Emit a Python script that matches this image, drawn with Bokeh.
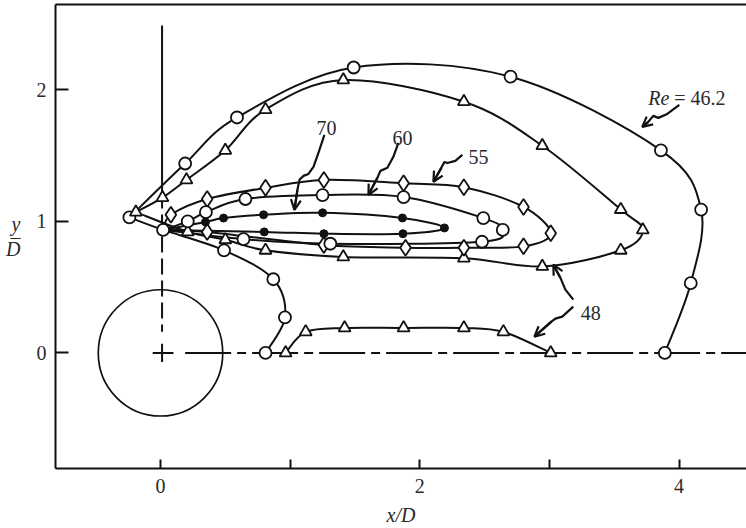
from bokeh.plotting import figure
from bokeh.models import FixedTicker, LinearAxis, Label, Arrow, OpenHead, Range1d
from bokeh.embed import file_html
from bokeh.resources import INLINE

# ---------------- data (x/D, y/D) ----------------
# Re = 46.2 : open circles
re462_upper_x = [-0.24, 0.19, 0.59, 1.49, 2.70, 3.86, 4.17, 4.09, 3.89]
re462_upper_y = [1.03, 1.44, 1.79, 2.17, 2.10, 1.54, 1.09, 0.53, 0.00]
re462_lower_x = [-0.24, 0.02, 0.49, 0.87, 0.96, 0.81]
re462_lower_y = [1.03, 0.935, 0.78, 0.56, 0.27, 0.00]

# Re = 48 : open triangles (upper loop + bubble on the centre line)
re48_loop_x = [-0.19, 0.015, 0.20, 0.50, 0.81, 1.41, 2.34, 2.945, 3.55, 3.72,
               3.55, 2.945, 2.34, 1.41, 0.81, 0.50, 0.21]
re48_loop_y = [1.07, 1.18, 1.315, 1.54, 1.85, 2.075, 1.91, 1.575, 1.09, 0.935,
               0.78, 0.657, 0.72, 0.73, 0.78, 0.86, 0.92]
re48_bubble_x = [0.965, 1.12, 1.42, 1.875, 2.34, 2.645, 3.01]
re48_bubble_y = [0.00, 0.16, 0.19, 0.19, 0.19, 0.16, 0.00]

# Re = 55 : open diamonds
re55_x = [0.08, 0.36, 0.81, 1.26, 1.875, 2.34, 2.80, 3.01, 2.80, 2.34, 1.89, 1.26, 0.36]
re55_y = [1.05, 1.17, 1.255, 1.315, 1.29, 1.26, 1.11, 0.91, 0.81, 0.80, 0.80, 0.82, 0.92]

# Re = 60 : open circles
re60_x = [0.21, 0.35, 0.655, 1.25, 1.875, 2.49, 2.64, 2.48, 1.31, 0.64]
re60_y = [1.00, 1.07, 1.17, 1.20, 1.185, 1.025, 0.935, 0.845, 0.83, 0.865]

# Re = 70 : filled circles
re70_x = [0.347, 0.486, 0.795, 1.25, 1.866, 2.19, 1.87, 1.26, 0.80]
re70_y = [0.995, 1.025, 1.05, 1.065, 1.026, 0.95, 0.906, 0.906, 0.92]

x_ticks = [0, 2, 4]
x_minor = [1, 3]
y_ticks = [0, 1, 2]

SERIF = "Liberation Serif"
INK = "#111111"
TXT = "#2a2a2a"


def bezier_parts(xs, ys):
    """Catmull-Rom curve through the points, as cubic Bezier pieces."""
    n = len(xs)
    px = [xs[0]] + list(xs) + [xs[-1]]
    py = [ys[0]] + list(ys) + [ys[-1]]
    out = dict(x0=[], y0=[], x1=[], y1=[], cx0=[], cy0=[], cx1=[], cy1=[])
    for i in range(1, n):
        out["x0"].append(px[i]); out["y0"].append(py[i])
        out["x1"].append(px[i + 1]); out["y1"].append(py[i + 1])
        out["cx0"].append(px[i] + (px[i + 1] - px[i - 1]) / 6.0)
        out["cy0"].append(py[i] + (py[i + 1] - py[i - 1]) / 6.0)
        out["cx1"].append(px[i + 1] - (px[i + 2] - px[i]) / 6.0)
        out["cy1"].append(py[i + 1] - (py[i + 2] - py[i]) / 6.0)
    return out


p = figure(width=746, height=528, output_backend="svg", toolbar_location=None,
           x_range=Range1d(-0.81, 4.52), y_range=Range1d(-0.879, 2.649),
           min_border_left=55, min_border_right=0, min_border_bottom=59,
           min_border_top=4)
p.outline_line_color = None
p.grid.visible = False
p.background_fill_color = "white"
p.border_fill_color = "white"

# axes
xa = p.xaxis[0]
xa.ticker = FixedTicker(ticks=x_ticks, minor_ticks=x_minor)
ya = p.yaxis[0]
ya.ticker = FixedTicker(ticks=y_ticks)
for ax in (xa, ya):
    ax.axis_line_width = 2
    ax.axis_line_color = INK
    ax.major_tick_line_width = 2
    ax.major_tick_line_color = INK
    ax.major_tick_out = 0
    ax.minor_tick_out = 0
    ax.major_label_text_font = SERIF
    ax.major_label_text_font_size = "20px"
    ax.major_label_text_color = TXT
    ax.axis_label_text_font = SERIF
    ax.axis_label_text_font_size = "20px"
    ax.axis_label_text_font_style = "italic"
    ax.axis_label_text_color = TXT
xa.major_tick_in = 9
xa.minor_tick_in = 9
xa.minor_tick_line_width = 2
xa.minor_tick_line_color = INK
xa.major_label_standoff = 10
xa.axis_label = "x/D"
xa.axis_label_standoff = 8
ya.major_tick_in = 13
ya.minor_tick_line_color = None
ya.major_label_standoff = 9
# y over D, stacked as a fraction
ya.axis_label = "y\n\u2013\nD"
ya.axis_label_orientation = "horizontal"
ya.axis_label_text_line_height = 0.55
ya.axis_label_standoff = 13

# plain top border of the frame
top = LinearAxis(ticker=FixedTicker(ticks=[]), axis_line_width=2, axis_line_color=INK,
                 major_tick_line_color=None, minor_tick_line_color=None,
                 major_label_standoff=0, major_tick_out=0, major_tick_in=0,
                 minor_tick_out=0, minor_tick_in=0)
p.add_layout(top, "above")

# cylinder and centre lines
p.ellipse(x=0.0, y=0.0, width=0.96, height=0.96, fill_color=None,
          line_color=INK, line_width=1.7)
p.segment(x0=[-0.06, 0.012], y0=[0.0, -0.07], x1=[0.10, 0.012], y1=[0.0, 0.07],
          line_color=INK, line_width=2)
p.segment(x0=[0.012], y0=[2.49], x1=[0.012], y1=[1.22], line_color=INK, line_width=2)
p.segment(x0=[0.012], y0=[1.22], x1=[0.012], y1=[0.16], line_color=INK, line_width=2,
          line_dash="16 6")
p.segment(x0=[0.19], y0=[0.0], x1=[4.6], y1=[0.0], line_color=INK, line_width=2,
          line_dash="46 6 9 6")

# curves
junction = (re462_lower_x[1], re462_lower_y[1])
paths = [
    (re462_upper_x, re462_upper_y),
    (re462_lower_x, re462_lower_y),
    (re48_loop_x + [re48_loop_x[0]], re48_loop_y + [re48_loop_y[0]]),
    (re48_bubble_x, re48_bubble_y),
    ([junction[0]] + re55_x + [junction[0]], [junction[1]] + re55_y + [junction[1]]),
    ([junction[0]] + re60_x + [junction[0]], [junction[1]] + re60_y + [junction[1]]),
    ([junction[0]] + re70_x + [junction[0]], [junction[1]] + re70_y + [junction[1]]),
]
for xs, ys in paths:
    b = bezier_parts(xs, ys)
    p.bezier(source=b, x0="x0", y0="y0", x1="x1", y1="y1", cx0="cx0", cy0="cy0",
             cx1="cx1", cy1="cy1", line_color=INK, line_width=2)

# markers
mk = dict(line_color=INK, line_width=1.8, fill_color="white")
p.scatter(re462_upper_x, re462_upper_y, marker="circle", size=12, **mk)
p.scatter(re462_lower_x[1:], re462_lower_y[1:], marker="circle", size=12, **mk)
p.scatter(re48_loop_x, re48_loop_y, marker="triangle", size=12, **mk)
p.scatter(re48_bubble_x, re48_bubble_y, marker="triangle", size=12, **mk)
p.scatter(re55_x, re55_y, marker="diamond", size=16, **mk)
p.scatter(re60_x, re60_y, marker="circle", size=12, **mk)
p.scatter(re70_x, re70_y, marker="circle", size=8, fill_color=INK, line_color=INK)

# wavy leader arrows
leaders = [
    ([4.002, 3.909, 3.840, 3.801, 3.763, 3.716], [1.885, 1.817, 1.787, 1.802, 1.757, 1.718]),
    ([1.264, 1.218, 1.180, 1.141, 1.103, 1.072, 1.056, 1.033],
     [1.657, 1.520, 1.414, 1.361, 1.346, 1.316, 1.240, 1.088]),
    ([1.835, 1.796, 1.750, 1.696, 1.673, 1.604], [1.597, 1.491, 1.407, 1.384, 1.331, 1.202]),
    ([2.328, 2.274, 2.213, 2.190, 2.166, 2.105], [1.506, 1.460, 1.444, 1.452, 1.407, 1.301]),
    ([3.184, 3.123, 3.084, 3.030], [0.405, 0.481, 0.572, 0.671]),
    ([3.184, 3.099, 3.046, 3.015, 2.884], [0.352, 0.276, 0.261, 0.238, 0.124]),
]
for xs, ys in leaders:
    p.line(xs, ys, line_color=INK, line_width=2.2)
    p.add_layout(Arrow(end=OpenHead(size=10, line_width=2.2, line_color=INK),
                       x_start=xs[-2], y_start=ys[-2], x_end=xs[-1], y_end=ys[-1],
                       line_color=INK, line_width=2.2))

lab = dict(text_font=SERIF, text_font_size="20px", text_color=TXT,
           text_baseline="alphabetic")
p.add_layout(Label(x=3.763, y=1.938, text="Re", text_font_style="italic",
                   text_align="left", **lab))
p.add_layout(Label(x=3.963, y=1.938, text="= 46.2", text_align="left", **lab))
p.add_layout(Label(x=1.28, y=1.711, text="70", text_align="center", **lab))
p.add_layout(Label(x=1.866, y=1.634, text="60", text_align="center", **lab))
p.add_layout(Label(x=2.452, y=1.49, text="55", text_align="center", **lab))
p.add_layout(Label(x=3.319, y=0.306, text="48", text_align="center", **lab))

open("out.html", "w").write(file_html(p, INLINE))
